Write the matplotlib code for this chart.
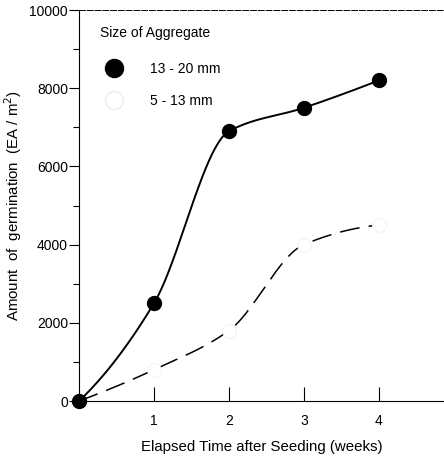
import numpy as np
import matplotlib.pyplot as plt
from matplotlib.lines import Line2D

plt.rcParams['font.family'] = ['Liberation Sans', 'DejaVu Sans']

weeks = [0, 1, 2, 3, 4]
large_agg = [0, 2500, 6900, 7500, 8200]   # 13 - 20 mm
small_agg = [0, 800, 1800, 4000, 4500]    # 5 - 13 mm


def pchip(x, y, n=200):
    # monotone cubic curve through the measured points (drawing only)
    x = np.asarray(x, float)
    y = np.asarray(y, float)
    h = np.diff(x)
    d = np.diff(y) / h
    m = np.zeros_like(y)
    for k in range(1, len(x) - 1):
        if d[k - 1] * d[k] > 0:
            w1 = 2 * h[k] + h[k - 1]
            w2 = h[k] + 2 * h[k - 1]
            m[k] = (w1 + w2) / (w1 / d[k - 1] + w2 / d[k])
    m[0] = max(2 * d[0] - m[1], 0)
    m[-1] = max(2 * d[-1] - m[-2], 0)
    xs = np.linspace(x[0], x[-1], n)
    idx = np.clip(np.searchsorted(x, xs) - 1, 0, len(x) - 2)
    t = (xs - x[idx]) / h[idx]
    h00 = 2 * t**3 - 3 * t**2 + 1
    h10 = t**3 - 2 * t**2 + t
    h01 = -2 * t**3 + 3 * t**2
    h11 = t**3 - t**2
    ys = h00 * y[idx] + h10 * h[idx] * m[idx] + h01 * y[idx + 1] + h11 * h[idx] * m[idx + 1]
    return xs, ys


fig = plt.figure(figsize=(4.44, 4.57), dpi=100)
ax = fig.add_axes([0.178, 0.1225, 0.822, 0.8555])

xs, ys = pchip(weeks, large_agg)
ax.plot(xs, ys, color="black", lw=1.4, clip_on=False)
ax.plot(weeks, large_agg, "o", color="black", ms=10, clip_on=False, zorder=5)

xs, ys = pchip(weeks, small_agg)
ax.plot(xs, ys, color="black", lw=1.1, dashes=(13, 6), clip_on=False)
ax.plot(weeks[1:], small_agg[1:], "o", mfc="white", mec="#f0f0f0", mew=0.6,
        ms=10, clip_on=False, zorder=5)

ax.set_xlim(0, 4.87)
ax.set_ylim(0, 10000)
ax.set_xticks([1, 2, 3, 4])
ax.set_yticks([0, 2000, 4000, 6000, 8000, 10000])
ax.set_yticks([1000, 3000, 5000, 7000, 9000], minor=True)
ax.tick_params(axis="x", direction="in", length=10, width=0.8, pad=9, labelsize=10)
ax.tick_params(axis="y", which="major", direction="out", length=7, width=0.8, pad=1, labelsize=10)
ax.tick_params(axis="y", which="minor", direction="out", length=4, width=0.8)

ax.spines["right"].set_visible(False)
ax.spines["top"].set_linestyle((0, (6, 2)))
ax.spines["top"].set_linewidth(0.7)
ax.spines["left"].set_linewidth(0.8)
ax.spines["bottom"].set_linewidth(0.8)

ax.set_xlabel("Elapsed Time after Seeding (weeks)", fontsize=10.8, labelpad=9)
ax.set_ylabel("Amount  of  germination  (EA / m$^2$)", fontsize=10.8, labelpad=4)

handles = [
    Line2D([0], [0], marker="o", color="black", ls="None", ms=13, label="13 - 20 mm"),
    Line2D([0], [0], marker="o", mfc="white", mec="#ececec", ls="None", ms=13, label="5 - 13 mm"),
]
leg = ax.legend(handles=handles, title="Size of Aggregate", loc="upper left",
                bbox_to_anchor=(0.03, 0.985), frameon=False, fontsize=10,
                title_fontsize=10, handletextpad=1.6, labelspacing=1.3,
                borderaxespad=0.3)
leg._legend_box.align = "left"
leg._legend_box.sep = 16

fig.savefig("out.png", dpi=100)
